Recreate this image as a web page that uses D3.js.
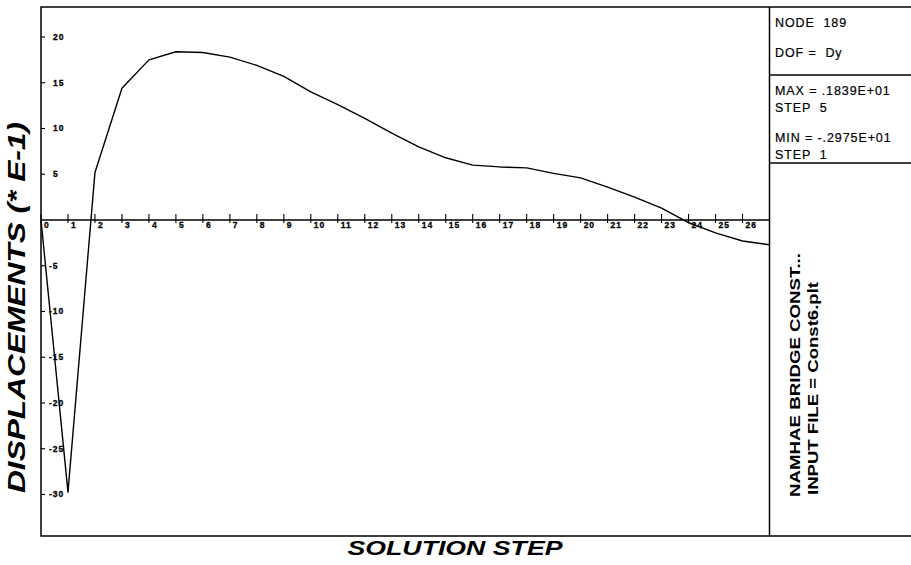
<!DOCTYPE html>
<html>
<head>
<meta charset="utf-8">
<script src="https://cdn.jsdelivr.net/npm/d3@7"></script>
<style>
  body { margin: 0; background: #fff; }
  svg { display: block; font-family: Arial, "Liberation Sans", sans-serif; }
  .tick-label { font-size: 8.5px; font-weight: bold; letter-spacing: 1px; stroke: #000; stroke-width: 0.3px; }
  .info { font-size: 12.5px; white-space: pre; letter-spacing: 0.9px; stroke: #000; stroke-width: 0.2px; }
</style>
</head>
<body>
<svg></svg>
<script>
  var width = 911;
  var height = 565;

  // solution steps and displacement values (* E-1), node 189, DOF Dy
  var steps = d3.range(0, 28);
  var disp = [0, -29.75, 5.2, 14.4, 17.5, 18.39, 18.3, 17.8, 16.9, 15.7, 14.0, 12.6, 11.1, 9.5,
              8.0, 6.8, 6.0, 5.8, 5.7, 5.1, 4.6, 3.6, 2.5, 1.3, -0.3, -1.4, -2.3, -2.7];
  var xTicks = d3.range(0, 27);
  var yTicks = [20, 15, 10, 5, -5, -10, -15, -20, -25, -30];
  var infoTop = ['NODE  189', 'DOF =  Dy'];
  var infoMid = ['MAX = .1839E+01', 'STEP  5', 'MIN = -.2975E+01', 'STEP  1'];
  var sideNotes = ['NAMHAE BRIDGE CONST...', 'INPUT FILE = Const6.plt'];

  var svg = d3.select('svg')
    .attr('width', width)
    .attr('height', height)
    ;

  var pLeft = 41, pRight = 769.5, pTop = 7, pBottom = 536;

  var x = d3.scaleLinear().domain([0, 27]).range([pLeft, pRight]);
  var y = d3.scaleLinear().domain([-34.54, 23.28]).range([pBottom, pTop]);

  // frame
  var frame = svg.append('g')
    .attr('stroke', '#000')
    .attr('stroke-width', 1.5)
    .attr('fill', 'none');
  frame.append('path')
    .attr('d', 'M' + width + ',' + pTop + 'H' + pLeft + 'V' + pBottom + 'H' + width);
  frame.append('line')
    .attr('x1', pRight).attr('x2', pRight).attr('y1', pTop).attr('y2', pBottom);
  frame.append('line')
    .attr('x1', pRight).attr('x2', width).attr('y1', 75).attr('y2', 75);
  frame.append('line')
    .attr('x1', pRight).attr('x2', width).attr('y1', 163).attr('y2', 163);

  // x axis through zero
  var xAxis = svg.append('g');
  xAxis.append('line')
    .attr('x1', pLeft).attr('x2', pRight)
    .attr('y1', y(0)).attr('y2', y(0))
    .attr('stroke', '#000').attr('stroke-width', 1.3);
  var xt = xAxis.selectAll('g.xt')
    .data(xTicks)
    .enter()
    .append('g')
    .attr('class', 'xt')
    .attr('transform', function(d) { return 'translate(' + x(d) + ',' + y(0) + ')'; });
  xt.append('line')
    .attr('y1', -6).attr('y2', 3)
    .attr('stroke', '#000').attr('stroke-width', 1.1);
  xt.append('text')
    .attr('class', 'tick-label')
    .attr('x', 3)
    .attr('y', 8)
    .text(function(d) { return d; });

  // y ticks on left border
  var yt = svg.selectAll('g.yt')
    .data(yTicks)
    .enter()
    .append('g')
    .attr('class', 'yt')
    .attr('transform', function(d) { return 'translate(' + pLeft + ',' + y(d) + ')'; });
  yt.append('line')
    .attr('x1', 0).attr('x2', 4)
    .attr('stroke', '#000').attr('stroke-width', 1.1);
  yt.append('text')
    .attr('class', 'tick-label')
    .attr('x', function(d) { return d < 0 ? 8 : 12; })
    .attr('dy', '0.33em')
    .text(function(d) { return d; });

  // curve
  var line = d3.line()
    .x(function(d, i) { return x(steps[i]); })
    .y(function(d) { return y(d); });
  svg.append('path')
    .datum(disp)
    .attr('d', line)
    .attr('fill', 'none')
    .attr('stroke', '#000')
    .attr('stroke-width', 1.4)
    .attr('stroke-linejoin', 'round');

  // axis titles
  svg.append('text')
    .attr('transform', 'translate(25,493) rotate(-90)')
    .attr('font-size', 23)
    .attr('font-weight', 'bold')
    .attr('font-style', 'italic')
    .attr('textLength', 371)
    .attr('lengthAdjust', 'spacingAndGlyphs')
    .text('DISPLACEMENTS (* E-1)');

  svg.append('text')
    .attr('x', 455)
    .attr('y', 555)
    .attr('text-anchor', 'middle')
    .attr('font-size', 20)
    .attr('font-weight', 'bold')
    .attr('font-style', 'italic')
    .attr('textLength', 215)
    .attr('lengthAdjust', 'spacingAndGlyphs')
    .text('SOLUTION STEP');

  // info panel
  svg.selectAll('text.top')
    .data(infoTop)
    .enter()
    .append('text')
    .attr('class', 'info top')
    .attr('x', 775)
    .attr('y', function(d, i) { return 27 + i * 30; })
    .text(function(d) { return d; });

  svg.selectAll('text.mid')
    .data(infoMid)
    .enter()
    .append('text')
    .attr('class', 'info mid')
    .attr('x', 775)
    .attr('y', function(d, i) { return [95, 112, 142, 159][i]; })
    .text(function(d) { return d; });

  svg.selectAll('text.side')
    .data(sideNotes)
    .enter()
    .append('text')
    .attr('class', 'side')
    .attr('transform', function(d, i) {
      return i === 0 ? 'translate(800,497) rotate(-90)' : 'translate(818,495) rotate(-90)';
    })
    .attr('font-size', 14)
    .attr('font-weight', 'bold')
    .attr('textLength', function(d, i) { return i === 0 ? 244 : 213; })
    .attr('lengthAdjust', 'spacingAndGlyphs')
    .text(function(d) { return d; });
</script>
</body>
</html>
